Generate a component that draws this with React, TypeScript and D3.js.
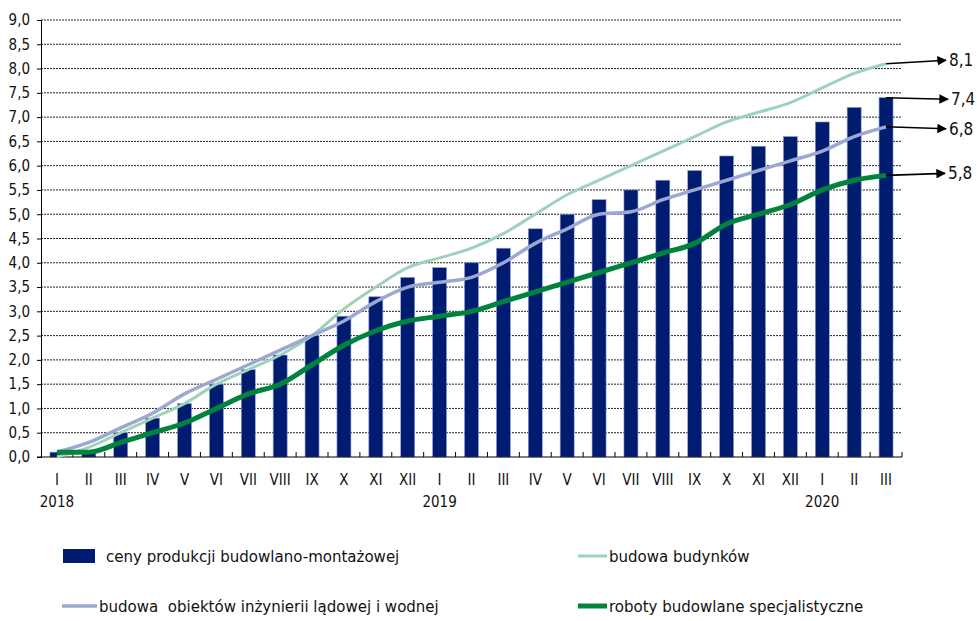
import React, { useEffect, useRef } from 'react'
import * as d3 from 'd3'

// months on the x axis (three years, Jan 2018 - Mar 2020)
const months = [
  'I', 'II', 'III', 'IV', 'V', 'VI', 'VII', 'VIII', 'IX', 'X', 'XI', 'XII',
  'I', 'II', 'III', 'IV', 'V', 'VI', 'VII', 'VIII', 'IX', 'X', 'XI', 'XII',
  'I', 'II', 'III',
]
const years = [
  { label: '2018', index: 0 },
  { label: '2019', index: 12 },
  { label: '2020', index: 24 },
]

// ceny produkcji budowlano-montażowej (bars)
const cenyProdukcji = [
  0.1, 0.1, 0.5, 0.8, 1.1, 1.5, 1.8, 2.1, 2.5, 2.9, 3.3, 3.7,
  3.9, 4.0, 4.3, 4.7, 5.0, 5.3, 5.5, 5.7, 5.9, 6.2, 6.4, 6.6,
  6.9, 7.2, 7.4,
]
// budowa budynków
const budowaBudynkow = [
  0.0, 0.2, 0.5, 0.8, 1.1, 1.5, 1.8, 2.1, 2.5, 3.05, 3.5, 3.9,
  4.1, 4.3, 4.6, 5.0, 5.4, 5.7, 6.0, 6.3, 6.6, 6.9, 7.1, 7.3,
  7.6, 7.9, 8.1,
]
// budowa obiektów inżynierii lądowej i wodnej
const budowaObiektow = [
  0.1, 0.3, 0.6, 0.9, 1.3, 1.6, 1.9, 2.2, 2.5, 2.8, 3.2, 3.5,
  3.6, 3.7, 4.0, 4.4, 4.7, 5.0, 5.05, 5.3, 5.5, 5.7, 5.9, 6.1,
  6.3, 6.6, 6.8,
]
// roboty budowlane specjalistyczne
const robotySpecjalistyczne = [
  0.1, 0.1, 0.3, 0.5, 0.7, 1.0, 1.3, 1.5, 1.9, 2.3, 2.6, 2.8,
  2.9, 3.0, 3.2, 3.4, 3.6, 3.8, 4.0, 4.2, 4.4, 4.8, 5.0, 5.2,
  5.5, 5.7, 5.8,
]

const yTicks = d3.range(0, 9.01, 0.5)

const FONT = "'Liberation Sans Narrow', 'DejaVu Sans Condensed', sans-serif"

const width = 977
const height = 621

const App: React.FC = () => {
  const svgRef = useRef<SVGSVGElement>(null)

  useEffect(() => {
    if (!svgRef.current) return
    const svg = d3.select(svgRef.current)
    svg.selectAll('*').remove()

    const margin = { top: 20, left: 41, right: 75, bottom: 164 }
    const plotBottom = height - margin.bottom
    const plotRight = width - margin.right

    const x = d3
      .scaleBand<number>()
      .domain(months.map((_, i) => i))
      .range([margin.left, plotRight])
      .padding(0)
    const y = d3.scaleLinear().domain([0, 9]).range([plotBottom, margin.top])
    const cx = (i: number) => (x(i) ?? 0) + x.bandwidth() / 2
    const fmt = (v: number) => d3.format('.1f')(v).replace('.', ',')

    // dotted gridlines
    svg
      .append('g')
      .selectAll('line')
      .data(yTicks.filter((t) => t > 0))
      .enter()
      .append('line')
      .attr('x1', margin.left)
      .attr('x2', plotRight)
      .attr('y1', (d) => y(d))
      .attr('y2', (d) => y(d))
      .attr('stroke', '#222')
      .attr('stroke-width', 1)
      .attr('stroke-dasharray', '2,1')

    // y axis
    const yAxis = svg
      .append('g')
      .attr('transform', `translate(${margin.left},0)`)
      .call(d3.axisLeft(y).tickValues(yTicks).tickSize(4).tickFormat((d) => fmt(d as number)))
    yAxis.select('.domain').attr('stroke', '#000')
    yAxis.selectAll('.tick line').attr('stroke', '#000')
    yAxis
      .selectAll('.tick text')
      .attr('x', -11)
      .style('font-family', FONT)
      .style('font-size', '15px')
      .attr('fill', '#111')

    // bars
    const barWidth = 14
    svg
      .selectAll('.bar')
      .data(cenyProdukcji)
      .enter()
      .append('rect')
      .attr('class', 'bar')
      .attr('x', (d, i) => cx(i) - barWidth / 2)
      .attr('y', (d) => y(d))
      .attr('width', barWidth)
      .attr('height', (d) => plotBottom - y(d))
      .attr('fill', '#001c71')
      .attr('stroke', '#8fa0d8')
      .attr('stroke-width', 0.6)

    // x axis
    svg
      .append('line')
      .attr('x1', margin.left - 4)
      .attr('x2', plotRight)
      .attr('y1', plotBottom)
      .attr('y2', plotBottom)
      .attr('stroke', '#000')
    svg
      .append('g')
      .selectAll('line')
      .data(d3.range(1, months.length + 1))
      .enter()
      .append('line')
      .attr('x1', (d) => x(d - 1)! + x.bandwidth())
      .attr('x2', (d) => x(d - 1)! + x.bandwidth())
      .attr('y1', plotBottom)
      .attr('y2', plotBottom - 5)
      .attr('stroke', '#000')

    svg
      .append('g')
      .selectAll('text')
      .data(months)
      .enter()
      .append('text')
      .attr('x', (d, i) => cx(i))
      .attr('y', plotBottom + 28)
      .attr('text-anchor', 'middle')
      .style('font-family', FONT)
      .style('font-size', '15px')
      .attr('fill', '#111')
      .text((d) => d)

    svg
      .append('g')
      .selectAll('text')
      .data(years)
      .enter()
      .append('text')
      .attr('x', (d) => cx(d.index))
      .attr('y', plotBottom + 50)
      .attr('text-anchor', 'middle')
      .style('font-family', FONT)
      .style('font-size', '15px')
      .attr('fill', '#111')
      .text((d) => d.label)

    // lines
    const series = [
      { data: budowaBudynkow, color: '#9dd3b6', w: 3 },
      { data: budowaObiektow, color: '#9ba8d2', w: 3.5 },
      { data: robotySpecjalistyczne, color: '#00843d', w: 5 },
    ]
    const line = d3
      .line<number>()
      .x((d, i) => cx(i))
      .y((d) => y(d))
      .curve(d3.curveMonotoneX)
    series.forEach((s) => {
      svg
        .append('path')
        .datum(s.data)
        .attr('d', line)
        .attr('fill', 'none')
        .attr('stroke', s.color)
        .attr('stroke-width', s.w)
        .attr('stroke-linejoin', 'round')
    })

    // arrows to the final values
    const defs = svg.append('defs')
    defs
      .append('marker')
      .attr('id', 'arrow')
      .attr('viewBox', '0 0 10 10')
      .attr('refX', 9)
      .attr('refY', 5)
      .attr('markerWidth', 6)
      .attr('markerHeight', 6)
      .attr('markerUnits', 'strokeWidth')
      .attr('orient', 'auto')
      .append('path')
      .attr('d', 'M0,0 L10,5 L0,10 Z')
      .attr('fill', '#000')

    const last = months.length - 1
    const callouts = [
      { v: budowaBudynkow[last], dy: -3.5, lx: 949 },
      { v: cenyProdukcji[last], dy: 1.5, lx: 951 },
      { v: budowaObiektow[last], dy: 2, lx: 949 },
      { v: robotySpecjalistyczne[last], dy: -2, lx: 948 },
    ]
    callouts.forEach((c) => {
      const sy = y(c.v)
      svg
        .append('line')
        .attr('x1', cx(last))
        .attr('y1', sy)
        .attr('x2', c.lx - 3)
        .attr('y2', sy + c.dy)
        .attr('stroke', '#000')
        .attr('stroke-width', 1.6)
        .attr('marker-end', 'url(#arrow)')
      svg
        .append('text')
        .attr('x', c.lx)
        .attr('y', sy + c.dy + 6)
        .style('font-family', FONT)
        .style('font-size', '17px')
        .attr('fill', '#111')
        .text(fmt(c.v))
    })

    // legend
    const legend = svg.append('g').style('font-family', FONT).style('font-size', '16.7px')
    legend
      .append('rect')
      .attr('x', 63)
      .attr('y', 549)
      .attr('width', 32)
      .attr('height', 14)
      .attr('fill', '#001c71')
    legend.append('text').attr('x', 106).attr('y', 562).attr('fill', '#111').text('ceny produkcji budowlano-montażowej')

    const legendLines = [
      { x: 578, y: 556, len: 29, color: '#9dd3b6', w: 3, label: 'budowa budynków' },
      { x: 62, y: 606, len: 35, color: '#9ba8d2', w: 3.5, label: 'budowa  obiektów inżynierii lądowej i wodnej' },
      { x: 578, y: 606, len: 29, color: '#00843d', w: 5, label: 'roboty budowlane specjalistyczne' },
    ]
    legendLines.forEach((l) => {
      legend
        .append('line')
        .attr('x1', l.x)
        .attr('x2', l.x + l.len)
        .attr('y1', l.y)
        .attr('y2', l.y)
        .attr('stroke', l.color)
        .attr('stroke-width', l.w)
      legend
        .append('text')
        .attr('x', l.x + l.len + 2)
        .attr('y', l.y + 6)
        .attr('fill', '#111')
        .style('white-space', 'pre')
        .text(l.label)
    })
  }, [])

  return (
    <svg
      ref={svgRef}
      width={width}
      height={height}
      style={{ position: 'absolute', left: 0, top: 0, background: '#fff' }}
    />
  )
}

export default App
